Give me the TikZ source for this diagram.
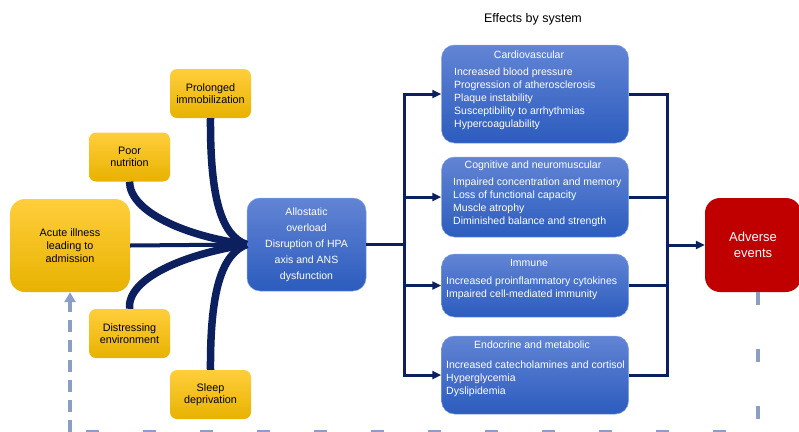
\documentclass[tikz,border=0pt]{standalone}
\usepackage{fontspec}
\setmainfont{Liberation Sans}
\usetikzlibrary{arrows.meta}
\definecolor{linenavy}{RGB}{12,32,96}
\definecolor{ylwtop}{RGB}{255,206,60}
\definecolor{ylwbot}{RGB}{232,178,0}
\definecolor{blutop}{RGB}{98,132,212}
\definecolor{blubot}{RGB}{44,92,190}
\definecolor{bluedge}{RGB}{130,160,225}
\definecolor{advred}{RGB}{192,0,0}
\definecolor{fbcol}{RGB}{140,158,200}
\tikzset{
  cause/.style={rounded corners=7, top color=ylwtop, bottom color=ylwbot, minimum width=81, minimum height=49, inner sep=1, align=center, font=\fontsize{10.8}{12.5}\selectfont},
  sysbox/.style={rounded corners=13, draw=bluedge, line width=0.5, top color=blutop, bottom color=blubot, minimum width=187, inner sep=0},
  systitle/.style={text=white, inner sep=0, font=\fontsize{10.5}{13}\selectfont},
  sysitems/.style={text=white, inner sep=0, anchor=west, align=left, font=\fontsize{10.5}{13}\selectfont},
  bus/.style={draw=linenavy, line width=3},
  tip/.style={-{Triangle[length=9pt,width=8pt]}},
  feed/.style={draw=fbcol, line width=3.5, dash pattern=on 13pt off 44pt},
}
\begin{document}
\begin{tikzpicture}[x=1pt,y=-1pt]
\useasboundingbox (0,0) rectangle (799,431);
\node (effects) at (533,19) {\fontsize{12.5}{15}\selectfont Effects by system};
% causes
\node[cause, minimum width=120, minimum height=93, rounded corners=15, font=\fontsize{10.8}{13}\selectfont] (acute) at (70,245.5) {Acute illness\\leading to\\admission};
\node[cause] (immob) at (210.5,93.5) {Prolonged\\immobilization};
\node[cause] (nutr) at (129.5,157) {Poor\\nutrition};
\node[cause] (distr) at (129.5,333.5) {Distressing\\environment};
\node[cause] (sleep) at (210.5,394.5) {Sleep\\deprivation};
\node[sysbox, minimum width=119, minimum height=93, text=white, align=center, font=\fontsize{10.5}{16}\selectfont] (allo) at (306.5,244.5) {Allostatic\\overload\\Disruption of HPA\\axis and ANS\\dysfunction};
% systems
\node[sysbox, minimum height=98] (cardio) at (535,94) {};
\node[sysbox, minimum height=80] (cogn) at (535,197) {};
\node[sysbox, minimum height=63] (immune) at (535,285.5) {};
\node[sysbox, minimum height=78] (endo) at (535,375) {};
\node[systitle] (cardiot) at (529,55) {Cardiovascular};
\node[sysitems] (cardioi) at (454,99) {Increased blood pressure\\Progression of atherosclerosis\\Plaque instability\\Susceptibility to arrhythmias\\Hypercoagulability};
\node[systitle] (cognt) at (533,166) {Cognitive and neuromuscular};
\node[sysitems] (cogni) at (453,202) {Impaired concentration and memory\\Loss of functional capacity\\Muscle atrophy\\Diminished balance and strength};
\node[systitle] (immunet) at (529,263) {Immune};
\node[sysitems] (immunei) at (446,288.5) {Increased proinflammatory cytokines\\Impaired cell-mediated immunity};
\node[systitle] (endot) at (532,345) {Endocrine and metabolic};
\node[sysitems] (endoi) at (446,378.5) {Increased catecholamines and cortisol\\Hyperglycemia\\Dyslipidemia};
\node[rounded corners=15, fill=advred, minimum width=96, minimum height=94, text=white, align=center, font=\fontsize{13}{16}\selectfont] (adverse) at (753,245) {Adverse\\events};
% converging lines
\draw[linenavy, line width=4] (acute.east) -- (allo.west);
\draw[linenavy, line width=7.5] (immob.south) .. controls (210,200) and (222,236) .. (allo.west);
\draw[linenavy, line width=7.5] (nutr.south) .. controls (130,212) and (185,236) .. (allo.west);
\draw[linenavy, line width=7.5] (distr.north) .. controls (127,278) and (185,254) .. (allo.west);
\draw[linenavy, line width=7.5] (sleep.north) .. controls (210,290) and (222,254) .. (allo.west);
% buses
\coordinate (lbus) at (404,244.5);
\coordinate (rbus) at (667,245);
\draw[bus] (allo.east) -- (lbus);
\draw[bus,tip] (lbus |- endo.west) -- (lbus |- cardio.west) -- (cardio.west);
\draw[bus,tip] (lbus |- cardio.west) -- (lbus |- endo.west) -- (endo.west);
\draw[bus,tip] (lbus |- cogn.west) -- (cogn.west);
\draw[bus,tip] (lbus |- immune.west) -- (immune.west);
\draw[bus] (cardio.east) -- (rbus |- cardio.east) -- (rbus |- endo.east) -- (endo.east);
\draw[bus] (cogn.east) -- (rbus |- cogn.east);
\draw[bus] (immune.east) -- (rbus |- immune.east);
\draw[bus,tip] (rbus) -- (adverse.west);
% feedback
\coordinate (fbR) at (758,431.5);
\coordinate (fbL) at (70,431.5);
\draw[feed] (adverse.south -| fbR) -- (fbR) -- (fbL);
\draw[draw=fbcol, line width=3.5, dash pattern=on 12pt off 8pt, -{Triangle[length=10pt,width=11pt]}] (fbL) -- (acute.south);
\end{tikzpicture}
\end{document}
